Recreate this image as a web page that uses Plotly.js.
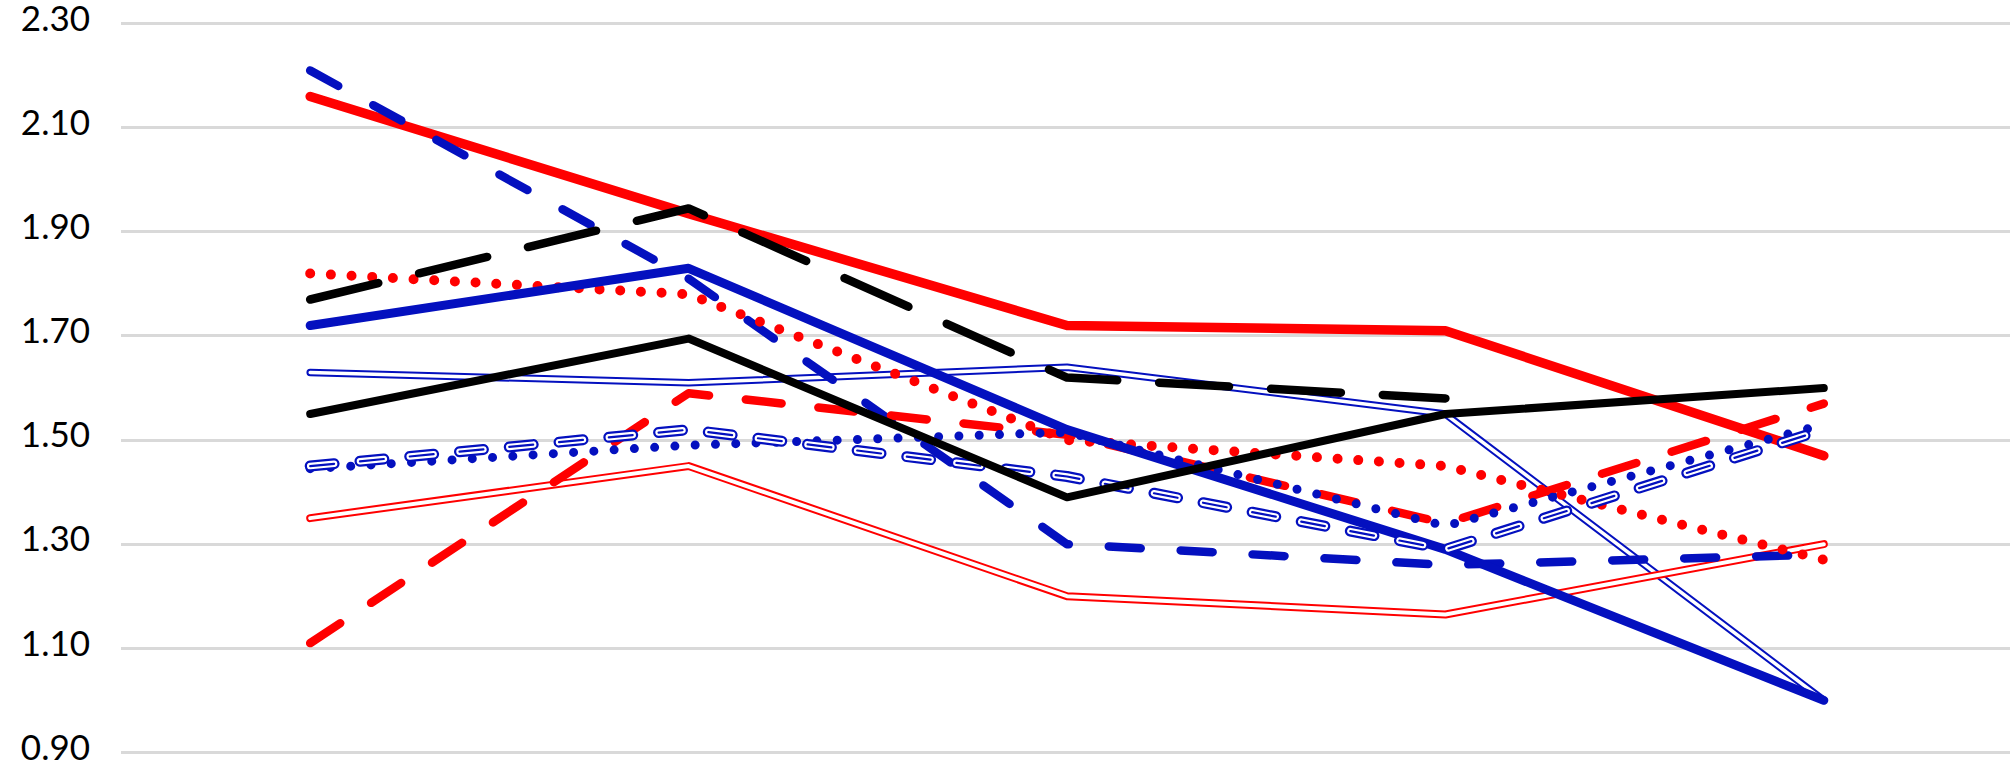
<!DOCTYPE html>
<html>
<head>
<meta charset="utf-8">
<script src="https://cdn.plot.ly/plotly-3.0.1.min.js"></script>
<style>
  html, body { margin: 0; padding: 0; background: #ffffff; overflow: hidden; }
  #chart { width: 2013px; height: 764px; }
  /* rounded ends and joins for every line, dots come from zero-length dashes */
  #chart .scatterlayer path.js-line { stroke-linecap: round; stroke-linejoin: round; }
</style>
</head>
<body>
<div id="chart"></div>
<script>
// five points along the category axis (no labels shown)
const categories = ['1', '2', '3', '4', '5'];

// series values
const redSolid         = [2.16, 1.935, 1.72, 1.71, 1.47];
const blueDashed       = [2.21, 1.81, 1.30, 1.26, 1.28];
const blackDashed      = [1.77, 1.945, 1.62, 1.58, null];
const redDotted        = [1.82, 1.78, 1.50, 1.45, 1.27];
const blueSolid        = [1.72, 1.83, 1.52, 1.29, 1.00];
const blueDouble       = [1.63, 1.61, 1.64, 1.55, 1.00];
const blackSolid       = [1.55, 1.695, 1.39, 1.55, 1.60];
const redDashed        = [1.11, 1.59, 1.51, 1.34, 1.57];
const blueDotted       = [1.445, 1.49, 1.515, 1.335, 1.53];
const blueDoubleDashed = [1.45, 1.52, 1.43, 1.29, 1.52];
const redDouble        = [1.35, 1.45, 1.20, 1.165, 1.30];

// y axis ticks
const tickValues = [0.9, 1.1, 1.3, 1.5, 1.7, 1.9, 2.1, 2.3];
const tickLabels = ['0.90', '1.10', '1.30', '1.50', '1.70', '1.90', '2.10', '2.30'];

const RED = '#ff0000';
const BLUE = '#0410bf';
const BLACK = '#000000';
const WHITE = '#ffffff';

function lineTrace(values, color, width, dash) {
  return {
    type: 'scatter',
    mode: 'lines',
    x: categories,
    y: values,
    line: { color: color, width: width, dash: dash || 'solid', shape: 'linear' },
    connectgaps: false,
    hoverinfo: 'skip',
    showlegend: false
  };
}

const DASH_SHORT = '32px,40px';
const DASH_RED = '36px,37px';
const DASH_LONG = '70px,42px';
const DOTS_RED = '0px,20.7px';
const DOTS_BLUE = '0px,20.3px';
const DASH_HOLLOW = '24px,26px';

const traces = [
  // thin double blue line: coloured stroke with a white core
  lineTrace(blueDouble, BLUE, 7.5),
  lineTrace(blueDouble, WHITE, 3.5),
  // thin double red line
  lineTrace(redDouble, RED, 8),
  lineTrace(redDouble, WHITE, 4),
  lineTrace(redSolid, RED, 9.5),
  lineTrace(blueDashed, BLUE, 8.5, DASH_SHORT),
  lineTrace(redDotted, RED, 10, DOTS_RED),
  lineTrace(redDashed, RED, 8.5, DASH_RED),
  lineTrace(blueSolid, BLUE, 9),
  lineTrace(blueDotted, BLUE, 9, DOTS_BLUE),
  // hollow dashed blue: outline, white fill, centre stroke
  lineTrace(blueDoubleDashed, BLUE, 11, DASH_HOLLOW),
  lineTrace(blueDoubleDashed, WHITE, 6.5, DASH_HOLLOW),
  lineTrace(blueDoubleDashed, BLUE, 2.2, DASH_HOLLOW),
  lineTrace(blackSolid, BLACK, 8),
  lineTrace(blackDashed, BLACK, 8.5, DASH_LONG)
];

const layout = {
  width: 2013,
  height: 764,
  margin: { l: 121, r: 0, t: 21, b: 9, pad: 0 },
  paper_bgcolor: WHITE,
  plot_bgcolor: WHITE,
  showlegend: false,
  xaxis: {
    type: 'category',
    range: [-0.5, 4.5],
    showgrid: false,
    zeroline: false,
    showline: false,
    showticklabels: false,
    ticks: '',
    fixedrange: true
  },
  yaxis: {
    range: [0.895, 2.305],
    tickmode: 'array',
    tickvals: tickValues,
    ticktext: tickLabels,
    showgrid: true,
    gridcolor: '#d9d9d9',
    gridwidth: 3,
    zeroline: false,
    showline: false,
    ticks: '',
    ticklabelstandoff: 30,
    ticklabelshift: -5,
    ticklabeloverflow: 'allow',
    tickfont: { family: 'Lato, "Noto Sans", sans-serif', size: 35, color: BLACK },
    fixedrange: true
  }
};

Plotly.newPlot('chart', traces, layout, { staticPlot: true, displayModeBar: false });
</script>
</body>
</html>
